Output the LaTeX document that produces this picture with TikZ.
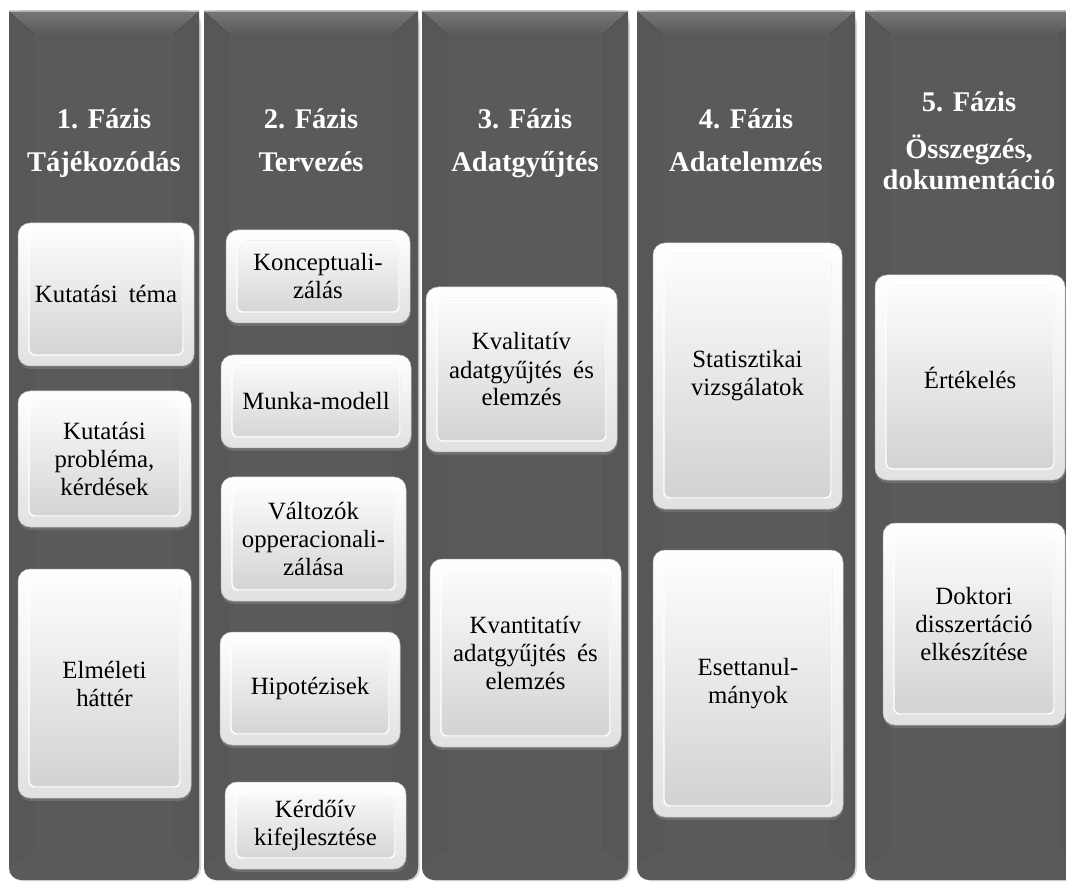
\documentclass[tikz,border=0pt]{standalone}
\usepackage{fontspec}
\setmainfont{Liberation Serif}
\usetikzlibrary{shadows}

\definecolor{colfill}{RGB}{90,90,90}
\definecolor{colhi}{RGB}{118,118,118}
\definecolor{colside}{RGB}{87,87,87}
\definecolor{rimlow}{RGB}{225,225,225}
\definecolor{facemid}{RGB}{240,240,240}
\definecolor{facelow}{RGB}{208,208,208}

\tikzset{
  phase/.style={text=white, font=\bfseries\fontsize{28.5}{32}\selectfont,
    anchor=base, inner sep=0pt},
  task/.style={rounded corners=12pt, top color=white, bottom color=rimlow,
    draw=gray!50, line width=0.5pt, align=center, inner sep=0pt,
    font=\fontsize{24.8}{28}\selectfont, text=black,
    drop shadow={shadow xshift=0.5pt, shadow yshift=-3pt, opacity=0.55},
    path picture={
      \fill[top color=white, middle color=facemid, bottom color=facelow,
            rounded corners=6pt]
        ([shift={(11pt,-11pt)}]path picture bounding box.north west) rectangle
        ([shift={(-11pt,11pt)}]path picture bounding box.south east);
      \draw[white, line width=1.4pt, rounded corners=6pt]
        ([shift={(11pt,-11pt)}]path picture bounding box.north west) rectangle
        ([shift={(-11pt,11pt)}]path picture bounding box.south east);
    }},
  colshadow/.style={drop shadow={shadow xshift=2pt, shadow yshift=-1pt, opacity=0.3}}
}

\begin{document}
\begin{tikzpicture}[x=1pt, y=-1pt]
\useasboundingbox (0,0) rectangle (1066,882);
\clip (0,0) rectangle (1066,882);
\fill[white] (0,0) rectangle (1066,882);

% five phase columns: square top, rounded bottom, bevelled top edge
\foreach \xa/\xb in {9/199, 204/418, 422/628, 637/855, 865/1085} {
  \fill[colfill, rounded corners=12pt, colshadow] (\xa,11) rectangle (\xb,880);
  \fill[colfill] (\xa,11) rectangle (\xb,60);
  \fill[colside] (\xa,11) -- (\xa+26,35) -- (\xa+26,850) -- (\xa,866) -- cycle;
  \fill[colside] (\xb,11) -- (\xb-26,35) -- (\xb-26,850) -- (\xb,866) -- cycle;
  \fill[top color=colhi, bottom color=colfill]
    (\xa,11) -- (\xb,11) -- (\xb-26,35) -- (\xa+26,35) -- cycle;
  \draw[gray!60, line width=1pt] (\xa,11.5) -- (\xb,11.5);
}

% phase headings
\node[phase] (h1a) at (104,129) {1. Fázis};
\node[phase] (h1b) at (104,172) {Tájékozódás};
\node[phase] (h2a) at (311,129) {2. Fázis};
\node[phase] (h2b) at (311,172) {Tervezés};
\node[phase] (h3a) at (525,129) {3. Fázis};
\node[phase] (h3b) at (525,172) {Adatgyűjtés};
\node[phase] (h4a) at (746,129) {4. Fázis};
\node[phase] (h4b) at (746,172) {Adatelemzés};
\node[phase] (h5a) at (969,112) {5. Fázis};
\node[phase] (h5b) at (969,159) {Összegzés,};
\node[phase] (h5c) at (969,190) {dokumentáció};

% phase 1
\node[task, minimum width=176pt, minimum height=143pt] (t11) at (106,294.5)
  {Kutatási\hspace{0.2em} téma};
\node[task, minimum width=173pt, minimum height=136pt] (t12) at (104.5,459)
  {Kutatási\\probléma,\\kérdések};
\node[task, minimum width=173pt, minimum height=229pt] (t13) at (104.5,683.5)
  {Elméleti\\háttér};

% phase 2
\node[task, minimum width=184pt, minimum height=93pt] (t21) at (318,276.5)
  {Konceptuali-\\zálás};
\node[task, minimum width=190pt, minimum height=93pt] (t22) at (316,401.5)
  {Munka-modell};
\node[task, minimum width=185pt, minimum height=124pt] (t23) at (313.5,539)
  {Változók\\opperacionali-\\zálása};
\node[task, minimum width=180pt, minimum height=113pt] (t24) at (310,688.5)
  {Hipotézisek};
\node[task, minimum width=181pt, minimum height=87pt] (t25) at (315.5,825.5)
  {Kérdőív\\kifejlesztése};

% phase 3
\node[task, minimum width=191pt, minimum height=165pt] (t31) at (521.5,369.5)
  {Kvalitatív\\adatgyűjtés\hspace{0.2em} és\\elemzés};
\node[task, minimum width=191pt, minimum height=188pt] (t32) at (525.5,653)
  {Kvantitatív\\adatgyűjtés\hspace{0.2em} és\\elemzés};

% phase 4
\node[task, minimum width=189pt, minimum height=266pt] (t41) at (747.5,376)
  {Statisztikai\\vizsgálatok};
\node[task, minimum width=190pt, minimum height=267pt] (t42) at (748,683.5)
  {Esettanul-\\mányok};

% phase 5
\node[task, minimum width=190pt, minimum height=205pt] (t51) at (970,377.5)
  {Értékelés};
\node[task, minimum width=182pt, minimum height=202pt] (t52) at (974,624)
  {Doktori\\disszertáció\\elkészítése};
\end{tikzpicture}
\end{document}
